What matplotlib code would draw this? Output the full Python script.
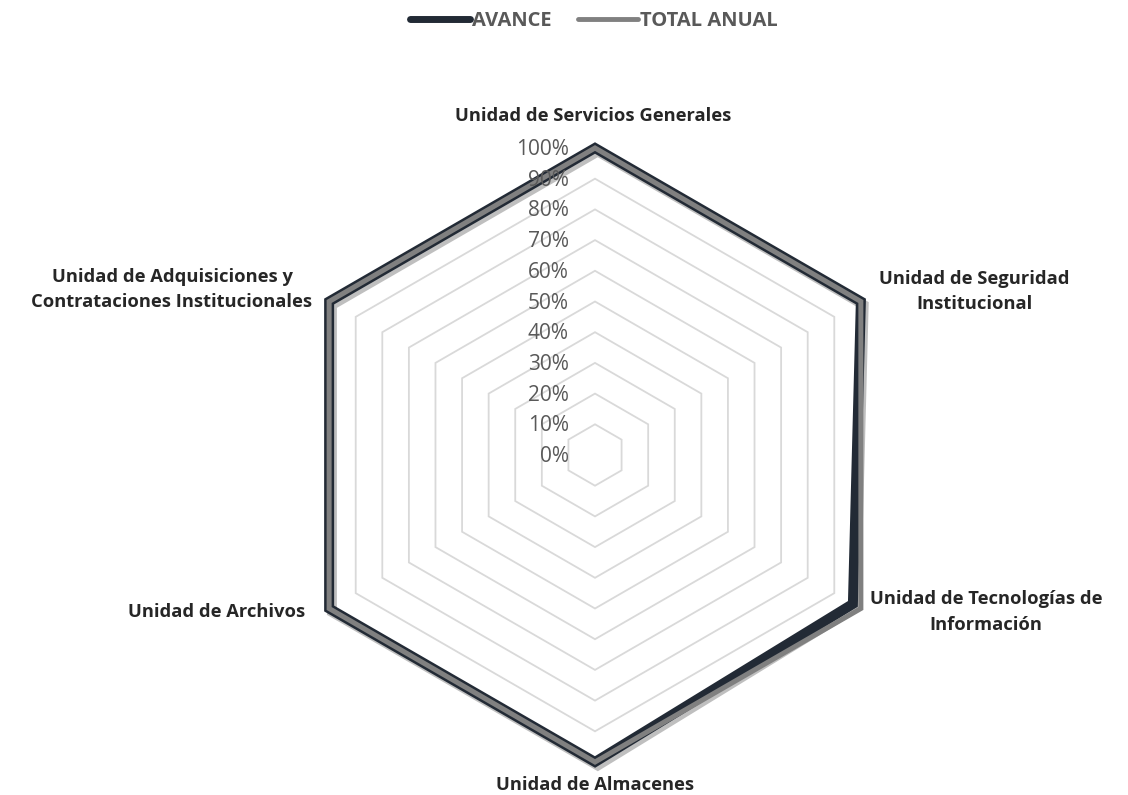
import numpy as np
import matplotlib
matplotlib.use("Agg")
import matplotlib.pyplot as plt
import matplotlib.patheffects as pe
from matplotlib.patches import Polygon

plt.rcParams['font.family'] = ['Open Sans', 'DejaVu Sans']

# Data
categories = ["Unidad de Servicios Generales",
              "Unidad de Seguridad\nInstitucional",
              "Unidad de Tecnologías de\nInformación",
              "Unidad de Almacenes",
              "Unidad de Archivos",
              "Unidad de Adquisiciones y\nContrataciones Institucionales"]
avance = [1.00, 1.00, 0.97, 1.00, 1.00, 1.00]
total_anual = [1.00, 1.00, 1.00, 1.00, 1.00, 1.00]
ticks = [0.0, 0.1, 0.2, 0.3, 0.4, 0.5, 0.6, 0.7, 0.8, 0.9, 1.0]
tick_labels = [f"{int(round(t * 100))}%" for t in ticks]

n = len(categories)
ang = np.pi / 2 - np.arange(n) * 2 * np.pi / n

def pts(vals):
    v = np.asarray(vals)
    return np.column_stack([v * np.cos(ang), v * np.sin(ang)])

W, H = 1128, 795
R = 307.0
cx, cy = 595.0, 455.0
fig = plt.figure(figsize=(W / 100, H / 100), dpi=100)
ax = fig.add_axes([0, 0, 1, 1])
ax.set_xlim(-cx / R, (W - cx) / R)
ax.set_ylim(-(H - cy) / R, cy / R)
ax.set_aspect('equal')
ax.axis('off')

# hexagonal grid
for t in ticks[1:]:
    ax.add_patch(Polygon(pts([t] * n), closed=True, fill=False,
                         edgecolor='#D9D9D9', lw=1.3, zorder=1))

# tick labels
for t, lab in zip(ticks, tick_labels):
    ax.text(-0.085, t - 0.005, lab, ha='right', va='center', fontsize=15,
            color='#595959', zorder=5)

# series
shadow = [pe.SimpleLineShadow(offset=(2, -2.5), shadow_color='black', alpha=0.25, rho=0.3),
          pe.Normal()]
ax.add_patch(Polygon(pts(avance), closed=True, fill=False, edgecolor='#222A35',
                     lw=7.2, joinstyle='miter', zorder=3, path_effects=shadow))
ax.add_patch(Polygon(pts(total_anual), closed=True, fill=False, edgecolor='#808080',
                     lw=3.6, joinstyle='miter', zorder=4))

# category labels
lab_pos = [(593, 116), (974, 292), (986, 612), (595, 785), (217, 612), (172, 290)]
for cat, (px, py) in zip(categories, lab_pos):
    ax.text((px - cx) / R, (cy - py) / R, cat, ha='center', va='center',
            fontsize=13.2, fontweight='bold', color='#262626',
            linespacing=1.5, zorder=5)

h1 = plt.Line2D([], [], color='#222A35', lw=5, solid_capstyle='round')
h2 = plt.Line2D([], [], color='#808080', lw=3.5, solid_capstyle='round')
leg = fig.legend([h1, h2], ['AVANCE', 'TOTAL ANUAL'], loc='center',
                 bbox_to_anchor=(594 / W, 1 - 21 / H), ncol=2, frameon=False,
                 handlelength=3.0, handletextpad=0.1, columnspacing=1.3,
                 prop={'weight': 'bold', 'size': 14.5})
for txt in leg.get_texts():
    txt.set_color('#595959')

fig.savefig('out.png', dpi=100)
